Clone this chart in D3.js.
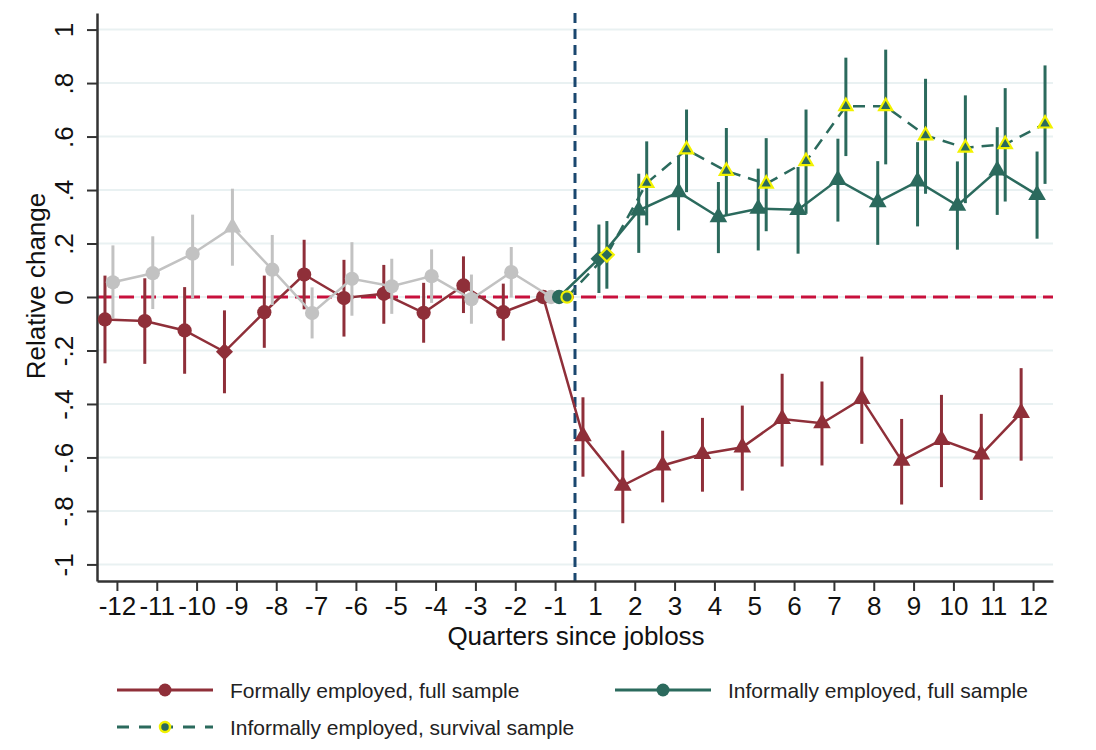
<!DOCTYPE html>
<html>
<head>
<meta charset="utf-8">
<script src="https://cdn.jsdelivr.net/npm/d3@7"></script>
<style>
  html, body { margin: 0; padding: 0; background: #ffffff; }
  svg { display: block; font-family: "Liberation Sans", Arial, sans-serif; }
</style>
</head>
<body>
<svg id="chart" width="1096" height="750"></svg>
<script>
// ---------------- DATA ----------------
const quarters = ["-12","-11","-10","-9","-8","-7","-6","-5","-4","-3","-2","-1",
                  "1","2","3","4","5","6","7","8","9","10","11","12"];
const yTicks = [-1, -0.8, -0.6, -0.4, -0.2, 0, 0.2, 0.4, 0.6, 0.8, 1];
const yTickLabels = ["-1", "-.8", "-.6", "-.4", "-.2", "0", ".2", ".4", ".6", ".8", "1"];

// Formally employed, full sample (all 24 quarters)
const formalEst = [-0.084, -0.090, -0.125, -0.205, -0.057, 0.084, -0.004, 0.012, -0.059, 0.043, -0.057, 0,
                   -0.520, -0.705, -0.630, -0.587, -0.562, -0.456, -0.472, -0.381, -0.612, -0.534, -0.589, -0.433];
const formalLo  = [-0.248, -0.250, -0.287, -0.360, -0.190, -0.046, -0.148, -0.100, -0.171, -0.060, -0.163, null,
                   -0.672, -0.846, -0.768, -0.728, -0.724, -0.634, -0.630, -0.549, -0.776, -0.711, -0.759, -0.612];
const formalHi  = [0.080, 0.070, 0.037, -0.050, 0.080, 0.214, 0.139, 0.120, 0.053, 0.152, 0.050, null,
                   -0.375, -0.574, -0.500, -0.452, -0.406, -0.287, -0.316, -0.223, -0.456, -0.366, -0.437, -0.266];
const formalSig = ["ns","ns","ns","10","ns","ns","ns","ns","ns","ns","ns","ns",
                   "5","5","5","5","5","5","5","5","5","5","5","5"];

// Informally employed, pre-period (grey), quarters -12 .. -1
const preEst = [0.055, 0.089, 0.162, 0.260, 0.102, -0.060, 0.068, 0.040, 0.078, -0.008, 0.093, 0];
const preLo  = [-0.080, -0.045, -0.005, 0.117, -0.030, -0.155, -0.070, -0.063, -0.022, -0.100, -0.002, null];
const preHi  = [0.193, 0.227, 0.308, 0.405, 0.232, 0.036, 0.205, 0.143, 0.178, 0.084, 0.187, null];
const preSig = ["ns","ns","ns","5","ns","ns","ns","ns","ns","ns","ns","ns"];

// Informally employed, full sample, quarters -1, 1 .. 12
const infEst = [0, 0.143, 0.324, 0.392, 0.299, 0.330, 0.326, 0.438, 0.355, 0.432, 0.342, 0.473, 0.382];
const infLo  = [null, 0.015, 0.165, 0.249, 0.164, 0.174, 0.162, 0.282, 0.195, 0.264, 0.177, 0.307, 0.218];
const infHi  = [null, 0.271, 0.461, 0.529, 0.430, 0.480, 0.486, 0.592, 0.508, 0.579, 0.507, 0.635, 0.544];
const infSig = ["ns","10","5","5","5","5","5","5","5","5","5","5","5"];

// Informally employed, survival sample, quarters -1, 1 .. 12
const survEst = [0, 0.158, 0.426, 0.551, 0.471, 0.423, 0.507, 0.713, 0.713, 0.604, 0.558, 0.571, 0.648];
const survLo  = [null, 0.031, 0.268, 0.392, 0.305, 0.246, 0.311, 0.527, 0.496, 0.386, 0.351, 0.357, 0.423];
const survHi  = [null, 0.284, 0.582, 0.701, 0.632, 0.594, 0.701, 0.895, 0.925, 0.816, 0.754, 0.781, 0.866];
const survSig = ["ns","10","5","5","5","5","5","5","5","5","5","5","5"];

const legendLabels = ["Formally employed, full sample",
                      "Informally employed, full sample",
                      "Informally employed, survival sample"];

// ---------------- CHART ----------------
const svg = d3.select("#chart");
const RED = "#8f2f39", TEAL = "#2b6a5d", GREY = "#c2c2c2", YEL = "#f2f200";
const plot = {left: 97, right: 1053, top: 13, bottom: 581};

const x = d3.scaleLinear().domain([-0.5, quarters.length - 0.5]).range([plot.left, plot.right]);
const y = d3.scaleLinear().domain([-1.062, 1.062]).range([plot.bottom, plot.top]);

const diamond = { draw(ctx, size) { const r = Math.sqrt(size / 2);
  ctx.moveTo(0, -r); ctx.lineTo(r, 0); ctx.lineTo(0, r); ctx.lineTo(-r, 0); ctx.closePath(); } };
const shapeOf = s => s === "5" ? d3.symbolTriangle : (s === "10" ? diamond : d3.symbolCircle);

// gridlines
svg.append("g").selectAll("line").data(yTicks).join("line")
  .attr("x1", plot.left).attr("x2", plot.right)
  .attr("y1", d => y(d)).attr("y2", d => y(d))
  .attr("stroke", "#e9f1f2").attr("stroke-width", 2);

// reference lines
svg.append("line").attr("x1", plot.left).attr("x2", plot.right)
  .attr("y1", y(0)).attr("y2", y(0))
  .attr("stroke", "#c8103c").attr("stroke-width", 3).attr("stroke-dasharray", "15,7");
svg.append("line").attr("x1", x(11.5)).attr("x2", x(11.5))
  .attr("y1", plot.top).attr("y2", plot.bottom)
  .attr("stroke", "#1a476f").attr("stroke-width", 3).attr("stroke-dasharray", "10,6");

// axes
const yAxis = svg.append("g").attr("transform", `translate(${plot.left},0)`)
  .call(d3.axisLeft(y).tickValues(yTicks).tickSize(10).tickSizeOuter(0)
    .tickFormat((d, i) => yTickLabels[i]));
yAxis.selectAll("text").attr("x", 0).attr("y", -24).attr("dy", 0)
  .attr("transform", "rotate(-90)").attr("text-anchor", "middle");
const xAxis = svg.append("g").attr("transform", `translate(0,${plot.bottom})`)
  .call(d3.axisBottom(x).tickValues(d3.range(quarters.length)).tickSize(10).tickSizeOuter(0)
    .tickPadding(6).tickFormat(i => quarters[i]));
[yAxis, xAxis].forEach(a => {
  a.selectAll("text").attr("font-size", 26).attr("fill", "#111").attr("font-family", "Liberation Sans, Arial, sans-serif");
  a.selectAll("line").attr("stroke", "#333").attr("stroke-width", 2);
  a.select(".domain").attr("stroke", "#333").attr("stroke-width", 2.5);
});

svg.append("text").attr("transform", "translate(45,286) rotate(-90)")
  .attr("text-anchor", "middle").attr("font-size", 26).attr("fill", "#111").text("Relative change");
svg.append("text").attr("x", 576).attr("y", 645)
  .attr("text-anchor", "middle").attr("font-size", 26).attr("fill", "#111").text("Quarters since jobloss");

// series drawing
function drawSeries(idx, est, lo, hi, sig, offset, color, opts) {
  const pts = est.map((v, k) => ({xi: idx[k] + offset, v, lo: lo[k], hi: hi[k], s: sig[k]}));
  const g = svg.append("g");
  g.selectAll("line.ci").data(pts.filter(p => p.lo !== null)).join("line")
    .attr("x1", p => x(p.xi)).attr("x2", p => x(p.xi))
    .attr("y1", p => y(p.lo)).attr("y2", p => y(p.hi))
    .attr("stroke", color).attr("stroke-width", 3);
  g.append("path").datum(pts)
    .attr("d", d3.line().x(p => x(p.xi)).y(p => y(p.v)))
    .attr("fill", "none").attr("stroke", color).attr("stroke-width", 2.5)
    .attr("stroke-dasharray", opts.dash || null);
  g.selectAll("path.mk").data(pts).join("path")
    .attr("transform", p => `translate(${x(p.xi)},${y(p.v)})`)
    .attr("d", p => d3.symbol().type(shapeOf(p.s)).size(opts.size[p.s])())
    .attr("fill", color)
    .attr("stroke", opts.outline || "none").attr("stroke-width", opts.outline ? 2.2 : 0);
}

const preIdx = d3.range(0, 12);
const allIdx = d3.range(0, 24);
const postIdx = d3.range(11, 24);

drawSeries(allIdx, formalEst, formalLo, formalHi, formalSig, -0.3, RED, {size: {ns: 160, "10": 145, "5": 135}});
drawSeries(preIdx, preEst, preLo, preHi, preSig, -0.1, GREY, {size: {ns: 160, "10": 145, "5": 135}});
drawSeries(postIdx, infEst, infLo, infHi, infSig, 0.1, TEAL, {size: {ns: 160, "10": 140, "5": 135}});
drawSeries(postIdx, survEst, survLo, survHi, survSig, 0.3, TEAL,
  {size: {ns: 100, "10": 95, "5": 75}, outline: YEL, dash: "12,8"});

// legend
const legend = svg.append("g");
const items = [
  {label: legendLabels[0], color: RED, x: 117, y: 690, dash: null, outline: null},
  {label: legendLabels[1], color: TEAL, x: 615, y: 690, dash: null, outline: null},
  {label: legendLabels[2], color: TEAL, x: 117, y: 727, dash: "12,10", outline: YEL}
];
items.forEach(it => {
  legend.append("line").attr("x1", it.x).attr("x2", it.x + 96).attr("y1", it.y).attr("y2", it.y)
    .attr("stroke", it.color).attr("stroke-width", 3).attr("stroke-dasharray", it.dash);
  legend.append("circle").attr("cx", it.x + 48).attr("cy", it.y).attr("r", it.outline ? 5 : 6.5)
    .attr("fill", it.color).attr("stroke", it.outline || "none").attr("stroke-width", it.outline ? 2.5 : 0);
  legend.append("text").attr("x", it.x + 113).attr("y", it.y + 8)
    .attr("font-size", 21).attr("fill", "#222").text(it.label);
});
</script>
</body>
</html>
